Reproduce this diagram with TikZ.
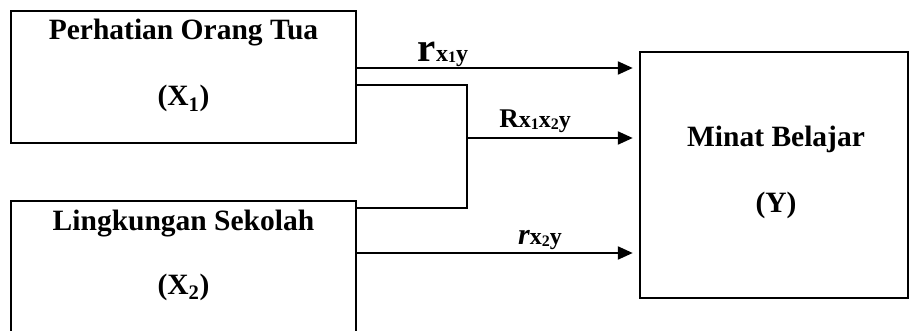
\documentclass[tikz,border=0pt]{standalone}
\usepackage{fontspec}
\setmainfont{Liberation Serif}
\usetikzlibrary{arrows.meta}
\begin{document}
\begin{tikzpicture}[x=1pt,y=-1pt,
  box/.style={draw,line width=2.5pt,inner sep=0pt},
  txt/.style={anchor=base,inner sep=0pt,font=\fontsize{29.5}{30}\selectfont\bfseries},
  lbl/.style={anchor=base,inner sep=0pt,font=\bfseries},
  conn/.style={line width=2.3pt},
  arr/.style={line width=2.3pt,-{Triangle[length=15pt,width=13pt]}}]
\useasboundingbox (0,0) rectangle (909,331);
\clip (0,0) rectangle (909,331);
\fill[white] (0,0) rectangle (909,331);
% boxes
\node[box,minimum width=345pt,minimum height=132pt] (x1) at (183.5,77) {};
\node[box,minimum width=345pt,minimum height=140pt] (x2) at (183.5,271) {};
\node[box,minimum width=268pt,minimum height=246pt] (y) at (774,175) {};
% texts
\node[txt] (t1a) at (183.5,40) {Perhatian Orang Tua};
\node[txt] (t1b) at (183.5,106) {(X\textsubscript{1})};
\node[txt] (t2a) at (183.5,230) {Lingkungan Sekolah};
\node[txt] (t2b) at (183.5,294) {(X\textsubscript{2})};
\node[txt] (tya) at (776,147) {Minat Belajar};
\node[txt] (tyb) at (776,212) {(Y)};
% connector coordinates
\coordinate (a1) at (x1.east |- 0,68);
\coordinate (b1) at (y.west |- 0,68);
\coordinate (c1) at (x1.east |- 0,85);
\coordinate (c2) at (x2.east |- 0,208);
\coordinate (m1) at (467,85);
\coordinate (m2) at (467,208);
\coordinate (m3) at (467,138);
\coordinate (b2) at (y.west |- 0,138);
\coordinate (a3) at (x2.east |- 0,253);
\coordinate (b3) at (y.west |- 0,253);
\draw[arr,shorten >=6pt] (a1) -- (b1);
\draw[conn] (c1) -- (m1) -- (m2) -- (c2);
\draw[arr,shorten >=6pt] (m3) -- (b2);
\draw[arr,shorten >=6pt] (a3) -- (b3);
% labels
\node[lbl] (l1) at (443,62) {{\fontsize{41}{41}\selectfont r}{\fontsize{24}{24}\selectfont x\raisebox{-1pt}{\fontsize{16}{16}\selectfont 1}y}};
\node[lbl] (l2) at (535,128) {{\fontsize{27}{27}\selectfont R}{\fontsize{24}{24}\selectfont x\raisebox{-2pt}{\fontsize{16}{16}\selectfont 1}x\raisebox{-2pt}{\fontsize{16}{16}\selectfont 2}y}};
\node[lbl] (l3) at (540,244) {{\fontsize{30}{30}\selectfont\itshape r}{\fontsize{24}{24}\selectfont x\raisebox{-2pt}{\fontsize{16}{16}\selectfont 2}y}};
\end{tikzpicture}
\end{document}
